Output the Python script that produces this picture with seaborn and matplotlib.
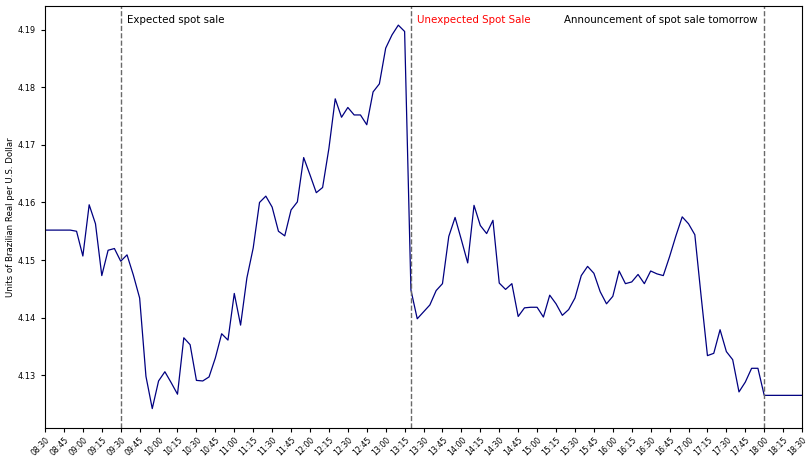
import matplotlib
matplotlib.use("Agg")
import matplotlib.pyplot as plt
import matplotlib.dates as mdates
import seaborn as sns
import pandas as pd

# BRL/USD quotes sampled every 5 minutes, 08:30 - 18:30
start_time = "2019-11-27 08:30"
end_time = "2019-11-27 18:30"
brl_per_usd = [
    4.1552, 4.1552, 4.1552, 4.1552, 4.1552, 4.1550,  # 08:30-08:55
    4.1507, 4.1596, 4.1563, 4.1473, 4.1517, 4.1520,  # 09:00-09:25
    4.1498, 4.1509, 4.1474, 4.1434, 4.1298, 4.1242,  # 09:30-09:55
    4.1290, 4.1306, 4.1287, 4.1267, 4.1365, 4.1353,  # 10:00-10:25
    4.1291, 4.1290, 4.1297, 4.1330, 4.1372, 4.1361,  # 10:30-10:55
    4.1442, 4.1387, 4.1469, 4.1521, 4.1600, 4.1611,  # 11:00-11:25
    4.1592, 4.1550, 4.1542, 4.1587, 4.1601, 4.1678,  # 11:30-11:55
    4.1648, 4.1617, 4.1626, 4.1694, 4.1780, 4.1748,  # 12:00-12:25
    4.1765, 4.1752, 4.1752, 4.1735, 4.1792, 4.1806,  # 12:30-12:55
    4.1868, 4.1891, 4.1908, 4.1897, 4.1448, 4.1398,  # 13:00-13:25
    4.1410, 4.1422, 4.1447, 4.1459, 4.1541, 4.1574,  # 13:30-13:55
    4.1535, 4.1495, 4.1595, 4.1560, 4.1546, 4.1569,  # 14:00-14:25
    4.1460, 4.1449, 4.1459, 4.1402, 4.1417, 4.1418,  # 14:30-14:55
    4.1418, 4.1401, 4.1439, 4.1424, 4.1404, 4.1414,  # 15:00-15:25
    4.1434, 4.1473, 4.1489, 4.1477, 4.1445, 4.1424,  # 15:30-15:55
    4.1437, 4.1481, 4.1459, 4.1462, 4.1475, 4.1459,  # 16:00-16:25
    4.1481, 4.1476, 4.1473, 4.1506, 4.1542, 4.1575,  # 16:30-16:55
    4.1563, 4.1544, 4.1437, 4.1334, 4.1338, 4.1379,  # 17:00-17:25
    4.1341, 4.1327, 4.1271, 4.1288, 4.1312, 4.1312,  # 17:30-17:55
    4.1265, 4.1265, 4.1265, 4.1265, 4.1265, 4.1265,  # 18:00-18:25
    4.1265,                                          # 18:30
]

# Event markers
event_times = ["2019-11-27 09:30", "2019-11-27 13:20", "2019-11-27 18:00"]
event_labels = ["Expected spot sale", "Unexpected Spot Sale",
                "Announcement of spot sale tomorrow"]
label_times = ["2019-11-27 09:35", "2019-11-27 13:25", "2019-11-27 17:55"]
label_colors = ["black", "red", "black"]
label_align = ["left", "left", "right"]

times = pd.date_range(start_time, end_time, freq="5min")
df = pd.DataFrame({"time": times, "rate": brl_per_usd})

fig, ax = plt.subplots(figsize=(8.11, 4.58), dpi=100)
fig.subplots_adjust(left=0.0555, right=0.989, top=0.987, bottom=0.066)

sns.lineplot(data=df, x="time", y="rate", ax=ax, color="navy", linewidth=0.9)

for t in event_times:
    ax.axvline(pd.Timestamp(t), color="dimgray", linestyle="--", linewidth=1)

trans = matplotlib.transforms.blended_transform_factory(ax.transData, ax.transAxes)
for t, lab, c, ha in zip(label_times, event_labels, label_colors, label_align):
    ax.text(mdates.date2num(pd.Timestamp(t)), 0.966, lab, color=c, ha=ha,
            va="center", fontsize=7.4, transform=trans)

ax.set_xlim(pd.Timestamp(start_time), pd.Timestamp(end_time))
ax.xaxis.set_major_locator(mdates.MinuteLocator(byminute=[0, 15, 30, 45]))
ax.xaxis.set_major_formatter(mdates.DateFormatter("%H:%M"))
ax.tick_params(axis="y", labelsize=5.9, length=3)
ax.tick_params(axis="x", labelsize=5.6, length=3, pad=2.5)
plt.setp(ax.get_xticklabels(), rotation=45, ha="right", rotation_mode="anchor")

ax.set_xlabel("")
ax.set_ylabel("Units of Brazilian Real per U.S. Dollar", fontsize=6.2, labelpad=2)

fig.savefig("out.png", dpi=100)
